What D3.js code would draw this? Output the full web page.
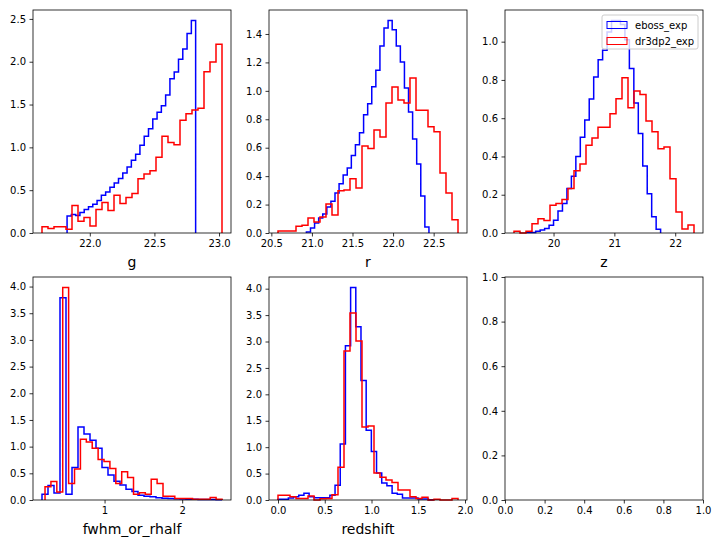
<!DOCTYPE html>
<html>
<head>
<meta charset="UTF-8">
<title>eboss_exp vs dr3dp2_exp histograms</title>
<script src="https://cdn.jsdelivr.net/npm/d3@7"></script>
<style>
    body { margin: 0; background: #fff; }
    svg { font-family: "DejaVu Sans", sans-serif; }
    .step { fill: none; stroke-width: 1.5px; stroke-linejoin: miter; }
    .spine { fill: none; stroke: #000; stroke-width: 0.8px; }
    .axis line { stroke: #000; stroke-width: 0.8px; }
    .axis text { font-size: 10px; fill: #000; font-family: "DejaVu Sans", sans-serif; }
    .xlabel { font-size: 14px; fill: #000; }
    .legend text { font-size: 10px; fill: #000; }
</style>
</head>
<body>
<svg width="719" height="545"></svg>
<script>
// two samples, blue / red
var names = ['eboss_exp', 'dr3dp2_exp'];
var colors = ['blue', 'red'];
var xLabels = ['g', 'r', 'z', 'fwhm_or_rhalf', 'redshift'];

// each histogram: [first edge, last edge] and 30 density values
var gEbossRange = [21.824, 22.819];
var gEboss = [0.198, 0.217, 0.205, 0.24, 0.275, 0.306, 0.337, 0.38, 0.44, 0.478,
              0.533, 0.583, 0.635, 0.70, 0.77, 0.85, 0.921, 1.026, 1.131, 1.217,
              1.33, 1.41, 1.485, 1.61, 1.80, 1.88, 2.03, 2.15, 2.33, 2.48];
var gDr3Range = [21.63, 23.023];
var gDr3 = [0.074, 0.054, 0.074, 0.074, 0.043, 0.32, 0.136, 0.18, 0.081, 0.275,
            0.357, 0.264, 0.442, 0.345, 0.415, 0.46, 0.634, 0.688, 0.727, 0.886,
            1.131, 1.058, 1.03, 1.318, 1.392, 1.435, 1.458, 1.882, 1.998, 2.205];

var rEbossRange = [20.932, 22.442];
var rEboss = [0.007, 0.035, 0.07, 0.105, 0.134, 0.183, 0.223, 0.281, 0.347, 0.408,
              0.457, 0.546, 0.621, 0.706, 0.832, 0.91, 1.029, 1.144, 1.315, 1.442,
              1.494, 1.43, 1.315, 1.203, 1.02, 0.851, 0.661, 0.485, 0.26, 0.042];
var rDr3Range = [20.582, 22.80];
var rDr3 = [0.014, 0.014, 0.014, 0.047, 0.054, 0.105, 0.077, 0.113, 0.204, 0.127,
            0.297, 0.302, 0.382, 0.317, 0.612, 0.595, 0.724, 0.675, 0.914, 1.027,
            0.935, 0.914, 1.09, 0.863, 0.863, 0.748, 0.713, 0.422, 0.281, 0.094];

var zEbossRange = [19.56, 21.76];
var zEboss = [0.002, 0.003, 0.009, 0.016, 0.023, 0.04, 0.066, 0.115, 0.154, 0.232,
              0.297, 0.40, 0.50, 0.59, 0.70, 0.815, 0.905, 0.955, 1.05, 1.11,
              1.11, 1.09, 1.01, 0.86, 0.68, 0.52, 0.35, 0.205, 0.085, 0.02];
var zDr3Range = [19.35, 22.309];
var zDr3 = [0.009, 0, 0.009, 0.049, 0.075, 0.065, 0.145, 0.154, 0.175, 0.232,
            0.326, 0.361, 0.459, 0.497, 0.553, 0.553, 0.623, 0.702, 0.812, 0.654,
            0.742, 0.724, 0.585, 0.529, 0.44, 0.449, 0.284, 0.11, 0.021, 0.042];

var fwhmEbossRange = [0.194, 2.513];
var fwhmEboss = [0.107, 0.27, 0.13, 3.79, 0.107, 0.61, 1.37, 1.235, 1.12, 0.97,
                 0.61, 0.47, 0.35, 0.28, 0.20, 0.16, 0.09, 0.07, 0.06, 0.04,
                 0.035, 0.03, 0.025, 0.02, 0.015, 0.015, 0.01, 0.01, 0.008, 0.005];
var fwhmDr3Range = [0.233, 2.513];
var fwhmDr3 = [0.25, 0.345, 0.15, 3.98, 0.31, 0.58, 1.14, 1.085, 0.97, 0.76,
               0.72, 0.59, 0.31, 0.53, 0.42, 0.107, 0.138, 0.107, 0.39, 0.31,
               0.07, 0.07, 0.03, 0.03, 0.03, 0.012, 0.012, 0.012, 0.045, 0.012];

var zspecEbossRange = [0.0, 1.664];
var zspecEboss = [0.013, 0.013, 0.04, 0.063, 0.09, 0.127, 0.063, 0.044, 0.044, 0.044,
                  0.09, 0.28, 1.06, 2.92, 4.02, 3.28, 2.26, 1.32, 0.92, 0.51,
                  0.32, 0.27, 0.13, 0.11, 0.04, 0.04, 0.04, 0.02, 0.02, 0.005];
var zspecDr3Range = [0.0, 1.925];
var zspecDr3 = [0.089, 0.089, 0.063, 0.03, 0.03, 0.076, 0, 0.025, 0.03, 0.1,
                0.62, 2.82, 3.54, 3.01, 1.38, 1.40, 0.51, 0.43, 0.38, 0.33,
                0.19, 0.19, 0.063, 0.03, 0.05, 0, 0.013, 0, 0, 0.03];

// tick values
var gXTicks = [22.0, 22.5, 23.0];
var rXTicks = [20.5, 21.0, 21.5, 22.0, 22.5];
var zXTicks = [20, 21, 22];
var fwhmXTicks = [1, 2];
var zspecXTicks = [0.0, 0.5, 1.0, 1.5, 2.0];
var unitTicks = [0.0, 0.2, 0.4, 0.6, 0.8, 1.0];
var gYTicks = [0.0, 0.5, 1.0, 1.5, 2.0, 2.5];
var rYTicks = [0.0, 0.2, 0.4, 0.6, 0.8, 1.0, 1.2, 1.4];
var zYTicks = [0.0, 0.2, 0.4, 0.6, 0.8, 1.0];
var bigYTicks = [0.0, 0.5, 1.0, 1.5, 2.0, 2.5, 3.0, 3.5, 4.0];

var panels = [
    { label: xLabels[0], series: [[gEbossRange, gEboss], [gDr3Range, gDr3]], xt: gXTicks, xf: '.1f', yt: gYTicks },
    { label: xLabels[1], series: [[rEbossRange, rEboss], [rDr3Range, rDr3]], xt: rXTicks, xf: '.1f', yt: rYTicks },
    { label: xLabels[2], series: [[zEbossRange, zEboss], [zDr3Range, zDr3]], xt: zXTicks, xf: 'd', yt: zYTicks, legend: true },
    { label: xLabels[3], series: [[fwhmEbossRange, fwhmEboss], [fwhmDr3Range, fwhmDr3]], xt: fwhmXTicks, xf: 'd', yt: bigYTicks },
    { label: xLabels[4], series: [[zspecEbossRange, zspecEboss], [zspecDr3Range, zspecDr3]], xt: zspecXTicks, xf: '.1f', yt: bigYTicks },
    { label: '', series: [], xt: unitTicks, xf: '.1f', yt: unitTicks }
];

var svg = d3.select('svg'),
    colX = [33, 269, 505],
    rowY = [10, 277],
    pw = 198,
    ph = 223;

// outline of a step histogram, in data units
function stepPoints(range, vals) {
    var w = (range[1] - range[0]) / vals.length;
    var pts = [[range[0], 0]];
    vals.forEach(function(v, k) {
        pts.push([range[0] + k * w, v]);
        pts.push([range[0] + (k + 1) * w, v]);
    });
    pts.push([range[1], 0]);
    return pts;
}

panels.forEach(function(p, i) {
    var g = svg.append('g')
        .attr('transform', 'translate(' + colX[i % 3] + ',' + rowY[Math.floor(i / 3)] + ')');

    var x = d3.scaleLinear().range([0, pw]),
        y = d3.scaleLinear().range([ph, 0]);

    if (p.series.length) {
        // matplotlib style: 5% margin on x, 5% headroom on y
        var lo = d3.min(p.series, s => s[0][0]),
            hi = d3.max(p.series, s => s[0][1]),
            pad = (hi - lo) * 0.05;
        x.domain([lo - pad, hi + pad]);
        y.domain([0, d3.max(p.series, s => d3.max(s[1])) * 1.05]);
    } else {
        x.domain([0, 1]);
        y.domain([0, 1]);
    }

    var line = d3.line().x(d => x(d[0])).y(d => y(d[1]));

    g.selectAll('.step')
        .data(p.series)
        .enter()
        .append('path')
        .attr('class', 'step')
        .attr('d', s => line(stepPoints(s[0], s[1])))
        .style('stroke', (s, k) => colors[k]);

    g.append('g')
        .attr('class', 'axis')
        .attr('transform', 'translate(0,' + ph + ')')
        .call(d3.axisBottom(x).tickValues(p.xt).tickFormat(d3.format(p.xf)).tickSize(3.5).tickPadding(3.5))
        .call(a => a.select('.domain').remove());

    g.append('g')
        .attr('class', 'axis')
        .call(d3.axisLeft(y).tickValues(p.yt).tickFormat(d3.format('.1f')).tickSize(3.5).tickPadding(3.5))
        .call(a => a.select('.domain').remove());

    g.append('rect')
        .attr('class', 'spine')
        .attr('width', pw)
        .attr('height', ph);

    if (p.label) {
        g.append('text')
            .attr('class', 'xlabel')
            .attr('x', pw / 2)
            .attr('y', ph + 34)
            .attr('text-anchor', 'middle')
            .text(p.label);
    }

    if (p.legend) {
        var lw = 96, lh = 34;
        var leg = g.append('g')
            .attr('class', 'legend')
            .attr('transform', 'translate(' + (pw - 5 - lw) + ',5)');
        leg.append('rect')
            .attr('width', lw).attr('height', lh)
            .attr('rx', 2)
            .style('fill', '#fff').style('fill-opacity', 0.8)
            .style('stroke', '#cccccc').style('stroke-width', 1);
        var item = leg.selectAll('.item')
            .data(names)
            .enter()
            .append('g')
            .attr('class', 'item')
            .attr('transform', (d, k) => 'translate(5,' + (10 + k * 16) + ')');
        item.append('rect')
            .attr('y', -3.5).attr('width', 20).attr('height', 7)
            .style('fill', 'none')
            .style('stroke', (d, k) => colors[k])
            .style('stroke-width', 1);
        item.append('text')
            .attr('x', 28)
            .attr('dy', '0.35em')
            .text(d => d);
    }
});
</script>
</body>
</html>
